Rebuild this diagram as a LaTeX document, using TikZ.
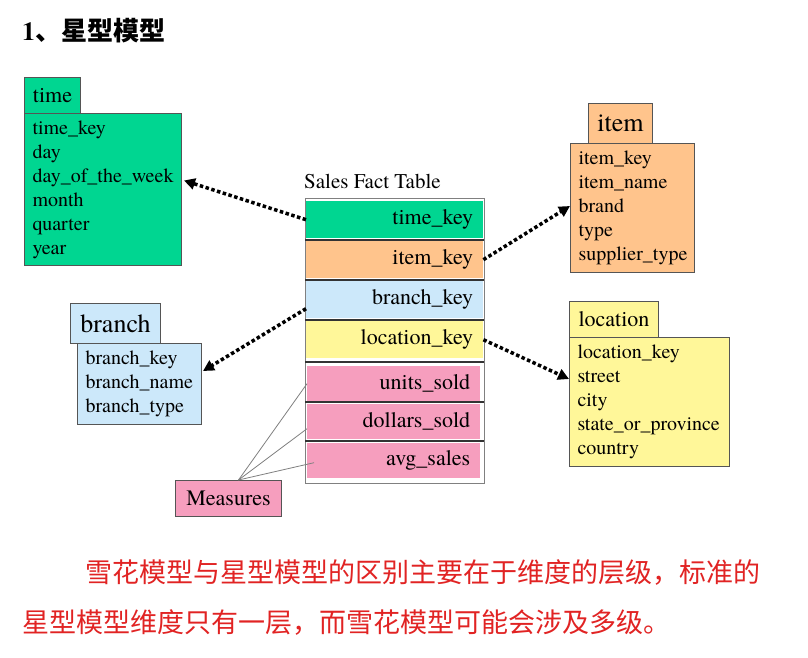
\documentclass[tikz,border=0pt]{standalone}
\usepackage{fontspec}
\newfontfamily\tnr{texgyretermes}[Extension=.otf, UprightFont=*-regular, BoldFont=*-bold]
\newfontfamily\cjk{Noto Sans CJK SC}
\usetikzlibrary{arrows.meta}
\definecolor{cgreen}{RGB}{0,214,145}
\definecolor{corange}{RGB}{255,196,140}
\definecolor{cblue}{RGB}{204,232,250}
\definecolor{cyellow}{RGB}{255,247,153}
\definecolor{cpink}{RGB}{246,158,190}
\definecolor{boxline}{RGB}{85,85,85}
\definecolor{cred}{RGB}{225,35,35}
\begin{document}
\begin{tikzpicture}[x=1pt,y=-1pt,
  box/.style={draw=boxline, line width=1pt, inner sep=0pt, anchor=north west},
  hdr/.style={box, font=\tnr\fontsize{22}{24}\selectfont, align=center},
  bighdr/.style={hdr, font=\tnr\fontsize{26}{28}\selectfont},
  body/.style={box, inner xsep=8pt, font=\tnr\fontsize{20}{24}\selectfont, align=left},
  frow/.style={anchor=north west, inner ysep=0pt, inner xsep=10pt, text width=157pt, align=right, font=\tnr\fontsize{22}{24}\selectfont},
  sepline/.style={draw=black!80, line width=1.5pt},
  dotarrow/.style={line width=3.5pt, dash pattern=on 3.5pt off 2.5pt, -{Triangle[length=11pt,width=11pt]}},
  measline/.style={draw=gray, line width=0.8pt}
]
\useasboundingbox (0,0) rectangle (808,658);
\fill[white] (0,0) rectangle (808,658);

% title
\node[anchor=west, inner sep=0pt] (title) at (22,31) {\tnr\fontsize{26}{28}\selectfont\bfseries 1{\cjk\bfseries 、星型模型}};

% time dimension
\node[hdr, fill=cgreen, minimum width=56pt, minimum height=36pt] (thdr) at (24,77) {time};
\node[body, fill=cgreen, text width=141pt, minimum height=152pt] (tbody) at (24,113)
  {time\_key\\day\\day\_of\_the\_week\\month\\quarter\\year};

% item dimension
\node[bighdr, fill=corange, minimum width=64pt, minimum height=40pt] (ihdr) at (588,103) {item};
\node[body, fill=corange, text width=108pt, minimum height=129pt] (ibody) at (570,143)
  {item\_key\\item\_name\\brand\\type\\supplier\_type};

% branch dimension
\node[bighdr, fill=cblue, minimum width=90pt, minimum height=40pt] (bhdr) at (70,303) {branch};
\node[body, fill=cblue, text width=108pt, minimum height=81pt] (bbody) at (77,343)
  {branch\_key\\branch\_name\\branch\_type};

% location dimension
\node[hdr, fill=cyellow, minimum width=89pt, minimum height=36pt] (lhdr) at (569,301) {location};
\node[body, fill=cyellow, text width=144pt, minimum height=129pt] (lbody) at (569,337)
  {location\_key\\street\\city\\state\_or\_province\\country};

% fact table
\node[anchor=west, inner sep=0pt, font=\tnr\fontsize{21}{24}\selectfont] (ftitle) at (304,181) {Sales Fact Table};
\node[frow, fill=cgreen, minimum height=37pt] (ftime) at (306,201) {time\_key};
\node[frow, fill=corange, minimum height=37pt] (fitem) at (306,241) {item\_key};
\node[frow, fill=cblue, minimum height=37pt] (fbranch) at (306,281) {branch\_key};
\node[frow, fill=cyellow, minimum height=37pt] (floc) at (306,321) {location\_key};
\node[frow, fill=cpink, minimum height=35pt, text width=153pt] (funits) at (307,366) {units\_sold};
\node[frow, fill=cpink, minimum height=35pt, text width=153pt] (fdollars) at (307,404) {dollars\_sold};
\node[frow, fill=cpink, minimum height=35pt, text width=153pt] (favg) at (307,443) {avg\_sales};
\node[draw=gray, line width=1pt, minimum width=179pt, minimum height=285pt, anchor=north west, inner sep=0pt] (fact) at (305,198) {};
\draw[sepline] (305,240) -- (484,240);
\draw[sepline] (305,280) -- (484,280);
\draw[sepline] (305,320) -- (484,320);
\draw[sepline] (305,362) -- (484,362);
\draw[sepline] (305,402) -- (484,402);
\draw[sepline] (305,441) -- (484,441);

% measures
\node[box, fill=cpink, minimum width=106pt, minimum height=36pt, font=\tnr\fontsize{22}{24}\selectfont] (meas) at (175,480) {Measures};
\coordinate (mtop) at ([xshift=10pt]meas.north);
\draw[measline] (mtop) -- (funits.west);
\draw[measline] (mtop) -- ([yshift=-7pt]fdollars.west);
\draw[measline] (mtop) -- ([xshift=7pt,yshift=-2pt]favg.west);

% dotted arrows
\draw[dotarrow] (ftime.west) -- ([xshift=2pt,yshift=9pt]tbody.east);
\draw[dotarrow] (fitem.east) -- ([yshift=2pt]ibody.west);
\draw[dotarrow] ([yshift=-9pt]fbranch.west) -- ([xshift=1pt,yshift=13pt]bbody.east);
\draw[dotarrow] (floc.east) -- ([yshift=23pt]lbody.west);

% remark text
\node[anchor=west, inner sep=0pt, text=cred, font=\cjk\fontsize{27}{30}\selectfont] (note1) at (85,573) {雪花模型与星型模型的区别主要在于维度的层级，标准的};
\node[anchor=west, inner sep=0pt, text=cred, font=\cjk\fontsize{27}{30}\selectfont] (note2) at (22,623) {星型模型维度只有一层，而雪花模型可能会涉及多级。};
\end{tikzpicture}
\end{document}
